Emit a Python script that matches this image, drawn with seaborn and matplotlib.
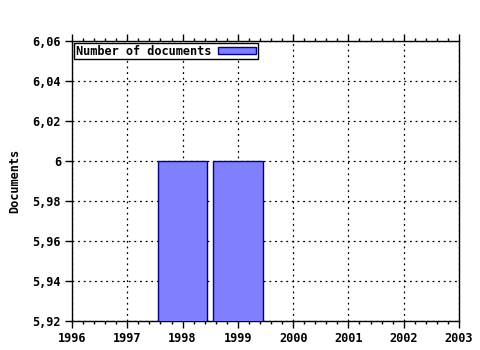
import matplotlib
matplotlib.use("Agg")
import matplotlib.pyplot as plt
from matplotlib.ticker import AutoMinorLocator
import seaborn as sns
import pandas as pd

years = [1998, 1999]
documents = [6, 6]
x_ticks = [1996, 1997, 1998, 1999, 2000, 2001, 2002, 2003]
y_ticks = [5.92, 5.94, 5.96, 5.98, 6.00, 6.02, 6.04, 6.06]
y_tick_labels = ["5,92", "5,94", "5,96", "5,98", "6", "6,02", "6,04", "6,06"]
series_name = "Number of documents"
y_label = "Documents"

sns.set_style("white")
plt.rcParams['font.family'] = ['DejaVu Sans Mono']
plt.rcParams['font.weight'] = 'bold'
plt.rcParams['text.color'] = 'black'
plt.rcParams['axes.labelcolor'] = 'black'
plt.rcParams['xtick.color'] = 'black'
plt.rcParams['ytick.color'] = 'black'

fig = plt.figure(figsize=(4.8, 3.5), dpi=100)
ax = fig.add_axes([72/480, 1-321/350, (459-72)/480, (321-41)/350])

df = pd.DataFrame({"year": years, "docs": documents})
sns.barplot(data=df, x="year", y="docs", native_scale=True, width=0.9,
            color="#8080ff", saturation=1, edgecolor="#000080", linewidth=1,
            label=series_name, ax=ax, zorder=3)

fs = 8.6
ax.set_xlim(x_ticks[0], x_ticks[-1])
ax.set_ylim(y_ticks[0], y_ticks[-1])
ax.set_xticks(x_ticks)
ax.set_xticklabels([str(t) for t in x_ticks], fontsize=fs, fontweight='bold')
ax.set_yticks(y_ticks)
ax.set_yticklabels(y_tick_labels, fontsize=fs, fontweight='bold')
ax.xaxis.set_minor_locator(AutoMinorLocator(5))
ax.grid(True, which='major', color='black', linestyle=(0, (1.5, 3)), linewidth=0.9, zorder=1)
ax.set_axisbelow(True)

ax.tick_params(axis='x', which='major', direction='out', length=5, width=1, bottom=True, top=True, pad=3)
ax.tick_params(axis='x', which='minor', direction='out', length=2, width=1, bottom=True, top=True)
ax.tick_params(axis='y', which='major', direction='out', length=5, width=1, left=True, right=False, pad=3)
for s in ax.spines.values():
    s.set_color('black')
    s.set_linewidth(1)

ax.set_xlabel("")
ax.set_ylabel(y_label, fontsize=fs, fontweight='bold', labelpad=8)

leg = ax.legend(loc='upper left', fontsize=fs, frameon=True, fancybox=False,
                edgecolor='black', framealpha=1, borderpad=0.15, handlelength=3.2,
                handleheight=0.6, handletextpad=0.6, markerfirst=False, borderaxespad=0.15)
leg.get_frame().set_linewidth(1)
for t in leg.get_texts():
    t.set_fontweight('bold')
    t.set_color('black')

fig.savefig("out.png", dpi=100)
